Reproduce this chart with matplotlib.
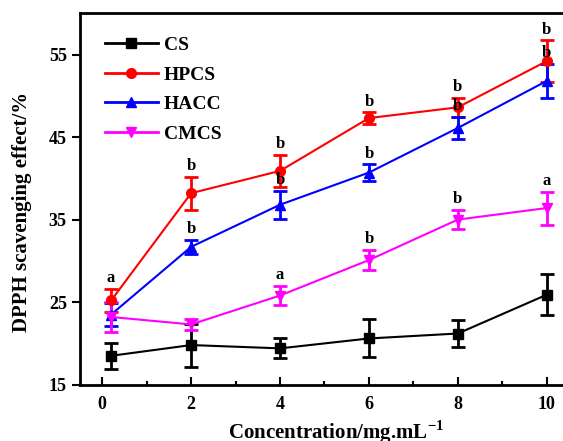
import matplotlib
matplotlib.use("Agg")
import matplotlib.pyplot as plt
from matplotlib.lines import Line2D

plt.rcParams['font.family'] = ['Liberation Serif', 'DejaVu Serif']
plt.rcParams['font.weight'] = 'bold'
plt.rcParams['mathtext.fontset'] = 'custom'
plt.rcParams['mathtext.rm'] = 'Liberation Serif:bold'
plt.rcParams['mathtext.bf'] = 'Liberation Serif:bold'

conc = [0.2, 2, 4, 6, 8, 10]

cs = [18.5, 19.8, 19.4, 20.6, 21.2, 25.9]
cs_err = [1.6, 2.6, 1.2, 2.3, 1.65, 2.5]

hpcs = [25.2, 38.2, 40.9, 47.3, 48.6, 54.2]
hpcs_err = [1.4, 2.0, 1.9, 0.7, 1.15, 2.5]

hacc = [23.5, 31.7, 36.8, 40.7, 46.1, 51.8]
hacc_err = [1.4, 0.85, 1.7, 1.0, 1.35, 2.1]

cmcs = [23.2, 22.3, 25.8, 30.1, 35.0, 36.4]
cmcs_err = [1.8, 0.7, 1.2, 1.25, 1.2, 2.0]

hpcs_letters = ['a', 'b', 'b', 'b', 'b', 'b']
hacc_letters = ['', 'b', 'b', 'b', 'b', 'b']
cmcs_letters = ['', '', 'a', 'b', 'b', 'a']

fig = plt.figure(figsize=(5.63, 4.41), dpi=100)
# axes extends past right edge of figure (right spine not visible in reference)
ax = fig.add_axes([0.1421, 0.1277, 0.908, 0.8423])

series = [
    ('CS', cs, cs_err, 'black', 's', None),
    ('HPCS', hpcs, hpcs_err, 'red', 'o', hpcs_letters),
    ('HACC', hacc, hacc_err, 'blue', '^', hacc_letters),
    ('CMCS', cmcs, cmcs_err, 'magenta', 'v', cmcs_letters),
]

handles = []
for name, vals, errs, col, mk, letters in series:
    ax.errorbar(conc, vals, yerr=errs, color=col, marker=mk, markersize=7,
                linewidth=1.5, elinewidth=2, capsize=5, capthick=2)
    handles.append(Line2D([], [], color=col, marker=mk, markersize=7, linewidth=2, label=name))
    if letters:
        for x, v, e, l in zip(conc, vals, errs, letters):
            if l:
                ax.annotate(l, (x, v + e), xytext=(0, 2), textcoords='offset points',
                            ha='center', va='bottom', fontsize=12, fontweight='bold')

ax.set_xlim(-0.5, 11.0)
ax.set_ylim(15, 60)
ax.set_xticks([0, 2, 4, 6, 8, 10])
ax.set_xticks([1, 3, 5, 7, 9], minor=True)
ax.set_yticks([15, 25, 35, 45, 55])
ax.tick_params(axis='x', which='major', direction='in', length=6, width=1.5, labelsize=13, pad=8)
ax.tick_params(axis='x', which='minor', direction='in', length=3, width=1.5)
ax.tick_params(axis='y', which='major', direction='out', length=6, width=1.5, labelsize=13)
for lab in ax.get_xticklabels() + ax.get_yticklabels():
    lab.set_fontweight('bold')
for sp in ax.spines.values():
    sp.set_linewidth(2)
ax.spines['right'].set_visible(False)

ax.set_xlabel(r'Concentration/mg.mL$^{-1}$', fontsize=15, fontweight='bold', labelpad=4)
ax.set_ylabel('DPPH scavenging effect/%', fontsize=15, fontweight='bold')
ax.yaxis.set_label_coords(-0.093, 0.466)

leg = ax.legend(handles=handles, loc='upper left', bbox_to_anchor=(0.015, 0.985), frameon=False,
                prop={'size': 14, 'weight': 'bold'}, handlelength=2.7, handletextpad=0.3,
                labelspacing=0.62)

fig.savefig('out.png', dpi=100)
